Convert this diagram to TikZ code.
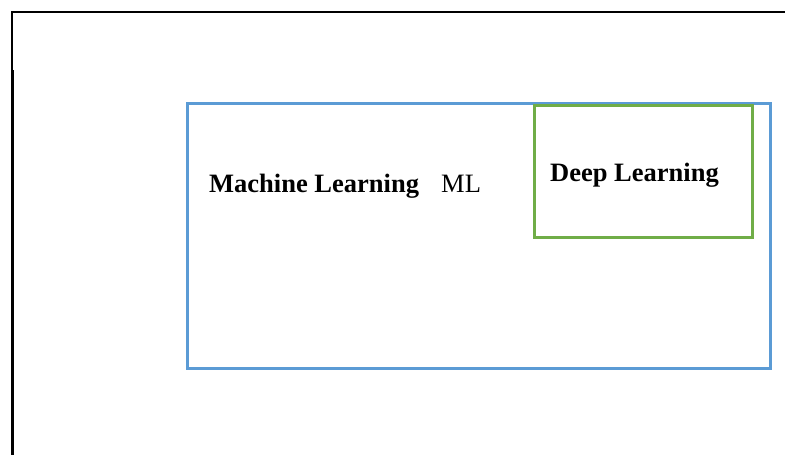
\documentclass[tikz,border=0pt]{standalone}
\usepackage{fontspec}
\setmainfont{Liberation Serif}
\definecolor{mlblue}{HTML}{5B9BD5}
\definecolor{dlgreen}{HTML}{70AD47}
\tikzset{
  setbox/.style={draw, inner sep=0pt, line width=3pt},
  lbl/.style={anchor=base west, inner sep=0pt, font=\fontsize{26.5}{30}\selectfont}
}
\begin{document}
\begin{tikzpicture}[x=1pt,y=-1pt]
\useasboundingbox (0,0) rectangle (785,455);
% outer frame fragments
\coordinate (tl) at (12,12);
\coordinate (tr) at (785,12);
\coordinate (lm) at (12,70);
\coordinate (lmt) at (12.5,70);
\coordinate (lb) at (12.5,455);
\draw[line width=2pt] (tr) -- (tl) -- (lm);
\draw[line width=3.2pt] (lmt) -- (lb);
% boxes
\node[setbox, draw=mlblue, minimum width=583pt, minimum height=265pt] (ml) at (478.5,235.5) {};
\node[setbox, draw=dlgreen, minimum width=218pt, minimum height=131.6pt] (dl) at (643.3,171.5) {};
% labels
\node[lbl] (mlt) at (209,192.5) {\textbf{Machine Learning}};
\node[lbl] (mlab) at (441,192.5) {ML};
\node[lbl] (dlt) at (550,181) {\textbf{Deep Learning}};
\end{tikzpicture}
\end{document}
